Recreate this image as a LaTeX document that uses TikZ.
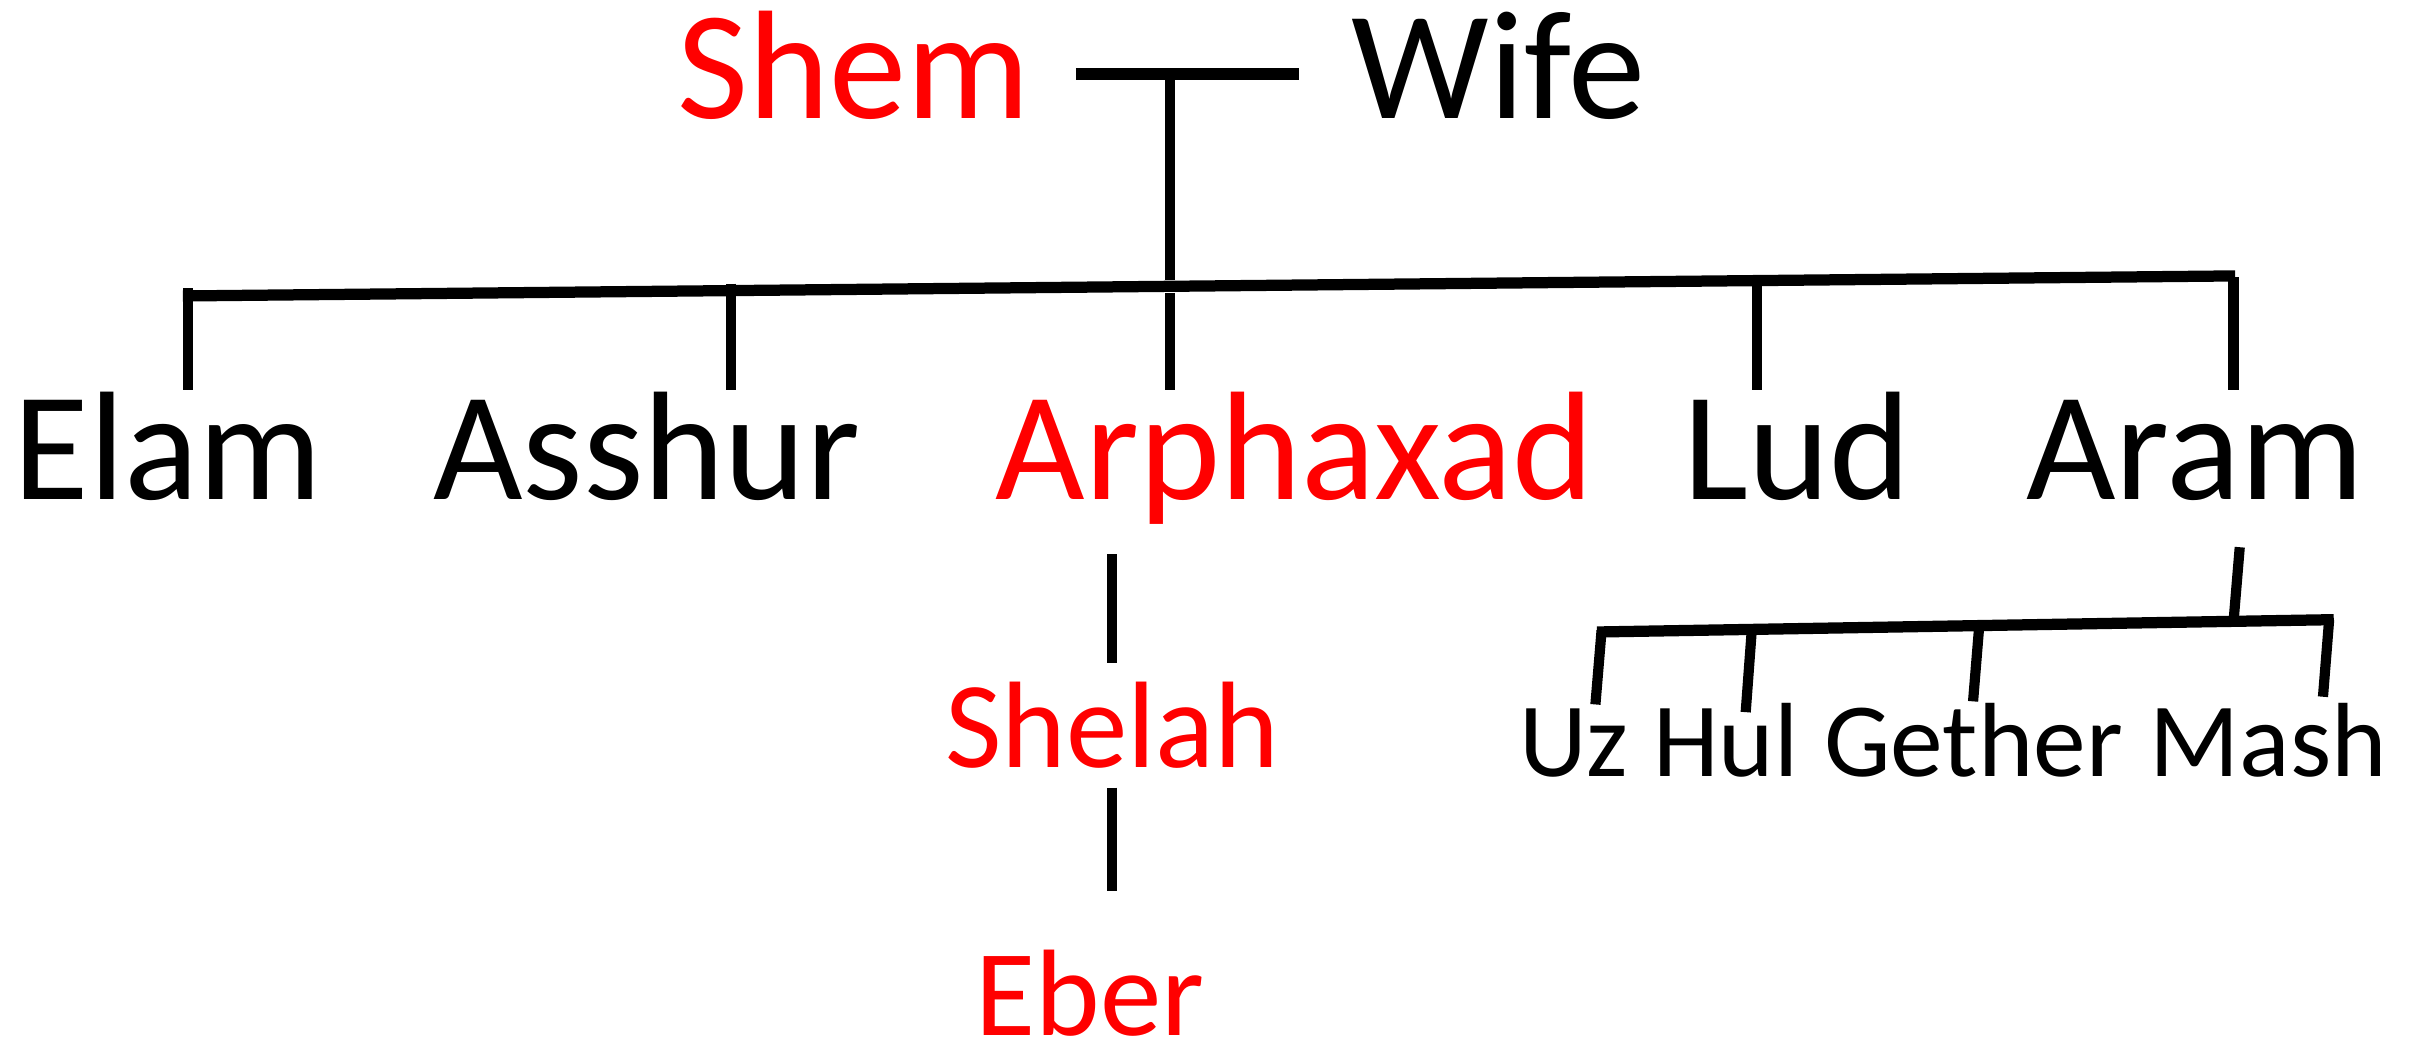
\documentclass[tikz,border=0pt]{standalone}
\usepackage{fontspec}
\setmainfont{Carlito}
\usetikzlibrary{positioning}

\tikzset{
  big/.style={inner sep=0pt, anchor=base, text height=31pt, font=\fontsize{44}{50}\selectfont},
  mid/.style={inner sep=0pt, anchor=base, text height=24.5pt, font=\fontsize{35}{40}\selectfont},
  small/.style={inner sep=0pt, anchor=base west, font=\fontsize{30}{34}\selectfont},
  stem/.style={line width=2.9pt},
  bar/.style={line width=3.2pt}
}

\begin{document}
\begin{tikzpicture}[x=0.015415cm,y=-0.015415cm]
  \useasboundingbox (0,0) rectangle (1568,689);
  % parents
  \node[big,red] (shem) at (554,77) {Shem};
  \node[big] (wife) at (972,77) {Wife};
  \coordinate (mL) at (698,48);
  \coordinate (mR) at (843,48);
  \coordinate (mC) at (759,48);
  \coordinate (sC) at (759,181.5);
  \draw[bar] (mL) -- (mR);
  \draw[stem] (mC) -- (sC);
  % sons
  \node[big] (elam) at (109,324) {Elam};
  \node[big] (asshur) at (419.5,324) {Asshur};
  \node[big,red] (arph) at (840,324) {Arphaxad};
  \node[big] (lud) at (1166,324) {Lud};
  \node[big] (aram) at (1424,324) {Aram};
  \coordinate (sL) at (118.6,192);
  \coordinate (sR) at (1450,179);
  \draw[bar] (sL) -- (sR);
  \coordinate (t1) at (122,187);
  \coordinate (t2) at (474,184);
  \coordinate (t3) at (759,190);
  \coordinate (t4) at (1140,182);
  \coordinate (t5) at (1449,180);
  \draw[stem] (t1) -- (t1 |- elam.north)
              (t2) -- (t2 |- asshur.north)
              (t3) -- (t3 |- arph.north)
              (t4) -- (t4 |- lud.north)
              (t5) -- (t5 |- aram.north);
  % line of Arphaxad
  \node[mid,red] (shelah) at (721.5,498) {Shelah};
  \node[mid,red] (eber) at (707,672) {Eber};
  \draw[stem, shorten <=8.3pt, shorten >=5.2pt] (arph.south -| shelah) -- (shelah.north);
  \draw[stem, shorten <=5.2pt, shorten >=16.4pt] (shelah.south) -- (shelah.south |- eber.north);
  % sons of Aram
  \node[small] (uz) at (985,504) {Uz};
  \node[small] (hul) at (1072,504) {Hul};
  \node[small] (gether) at (1183,504) {Gether};
  \node[small] (mash) at (1394,504) {Mash};
  \coordinate (bL) at (1036,410);
  \coordinate (bR) at (1514,402);
  \coordinate (rB) at (1449,403);
  \draw[bar] (bL) -- (bR);
  \draw[stem] (rB) -- ++(4,-48);
  \coordinate (k1) at (1039,409);
  \coordinate (k2) at (1136.5,408);
  \coordinate (k3) at (1284,406);
  \coordinate (k4) at (1511,402);
  \foreach \k/\d in {k1/48, k2/54, k3/49, k4/50}
    \draw[stem] (\k) -- ++(-4,\d);
\end{tikzpicture}
\end{document}
